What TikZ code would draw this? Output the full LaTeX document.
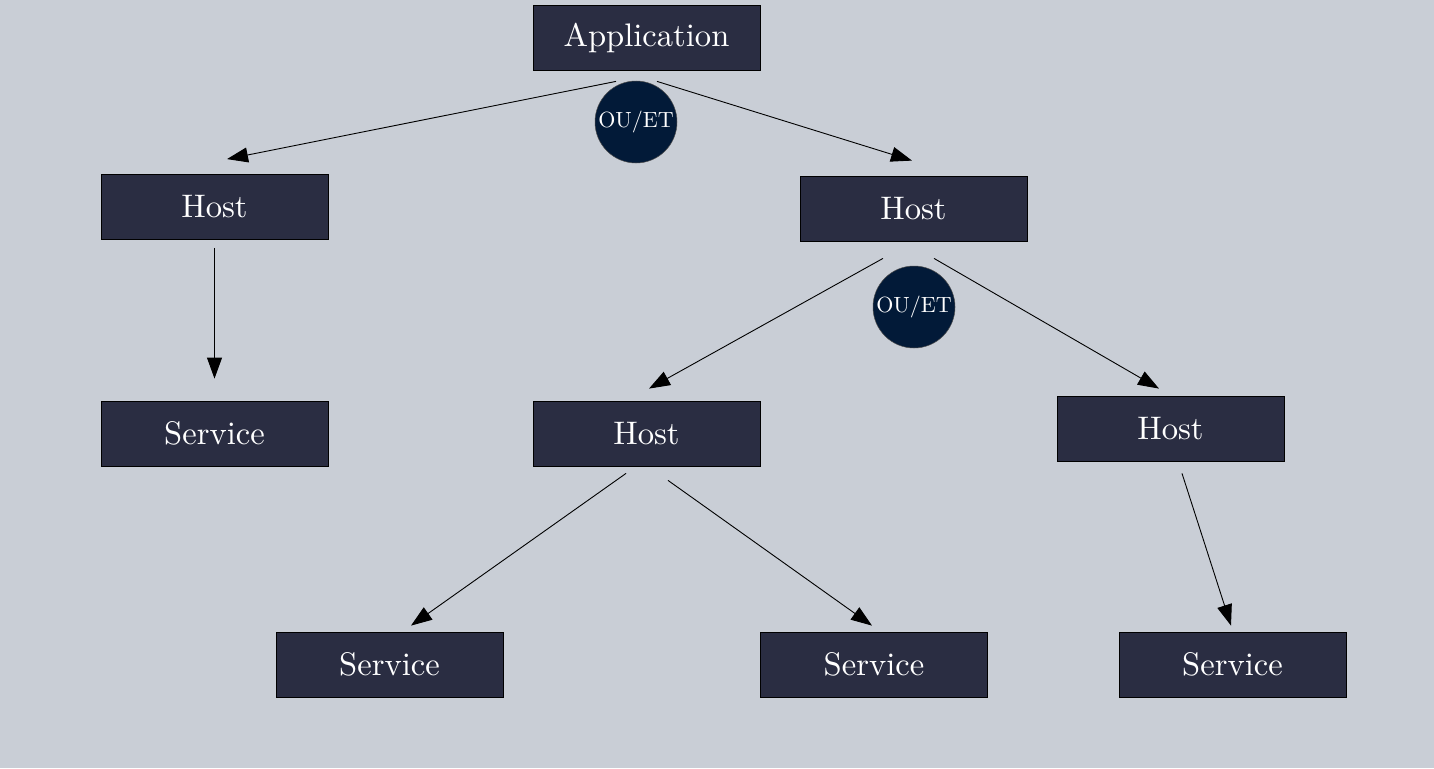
\documentclass[tikz,border=0pt]{standalone}
\usepackage{fontspec}
\setmainfont{lmroman10-regular}[Extension=.otf]
\usetikzlibrary{arrows.meta}
\definecolor{bgc}{HTML}{C9CED6}
\definecolor{boxc}{HTML}{2A2D42}
\definecolor{circc}{HTML}{021A38}
\begin{document}
\begin{tikzpicture}[x=1pt,y=-1pt,
  box/.style={draw=black,line width=0.8pt,fill=boxc,text=white,minimum width=227pt,minimum height=65pt,inner sep=0pt,font=\fontsize{32.6}{38}\selectfont},
  opc/.style={circle,draw=black!70,line width=0.5pt,fill=circc,text=white,minimum size=82pt,inner sep=0pt,font=\fontsize{22}{26}\selectfont},
  conn/.style={line width=0.9pt,-{Triangle[length=21pt,width=15pt]}}]
\fill[bgc] (0,0) rectangle (1434,768);
\useasboundingbox (0,0) rectangle (1434,768);
\node[box] (app) at (646.5,37.5) {Application};
\node[box] (hostL) at (214.5,207) {Host};
\node[box] (hostR) at (913.5,208.5) {Host};
\node[box] (servL) at (214.5,433.5) {Service};
\node[box] (hostM) at (646.5,433.5) {Host};
\node[box] (hostRR) at (1170.5,428.5) {Host};
\node[box] (serv1) at (389.5,664.5) {Service};
\node[box] (serv2) at (874,664.5) {Service};
\node[box] (serv3) at (1232.5,664.5) {Service};
\node[opc] (op1) at (636,122) {OU/ET};
\node[opc] (op2) at (914,307) {OU/ET};
\draw[conn] ([xshift=-30.5pt,yshift=-11pt]app.south) -- ([xshift=12.5pt,yshift=15pt]hostL.north);
\draw[conn] ([xshift=10.5pt,yshift=-11pt]app.south) -- ([xshift=-1.5pt,yshift=15pt]hostR.north);
\draw[conn] ([yshift=-8pt]hostL.south) -- ([yshift=22pt]servL.north);
\draw[conn] ([xshift=-30.5pt,yshift=-17pt]hostR.south) -- ([xshift=2.5pt,yshift=12pt]hostM.north);
\draw[conn] ([xshift=20.5pt,yshift=-17pt]hostR.south) -- ([xshift=-11.5pt,yshift=7pt]hostRR.north);
\draw[conn] ([xshift=-20.5pt,yshift=-7pt]hostM.south) -- ([xshift=21.5pt,yshift=6pt]serv1.north);
\draw[conn] ([xshift=21.5pt,yshift=-14pt]hostM.south) -- ([xshift=-2pt,yshift=6pt]serv2.north);
\draw[conn] ([xshift=11.5pt,yshift=-12pt]hostRR.south) -- ([xshift=-1.5pt,yshift=6pt]serv3.north);
\end{tikzpicture}
\end{document}
